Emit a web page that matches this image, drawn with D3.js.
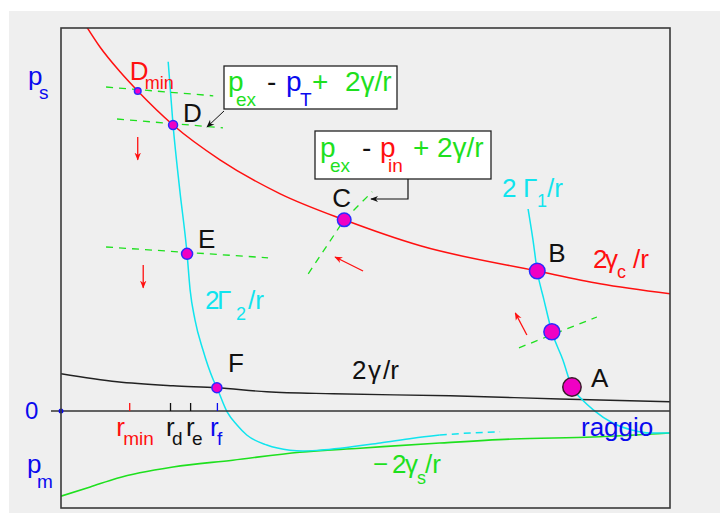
<!DOCTYPE html>
<html>
<head>
<meta charset="utf-8">
<script src="https://cdn.jsdelivr.net/npm/d3@7"></script>
<style>
  html, body { margin: 0; padding: 0; background: #fff; }
  svg { display: block; font-family: "Liberation Sans", Arial, sans-serif; }
</style>
</head>
<body>
<svg id="chart" width="720" height="515"></svg>
<script>
// ---- data: points on each curve as [raggio, pressione] ----
const curveGammaC = [[3.9,96.8],[6.4,91],[9.7,84.8],[12.6,80],[18.4,71.5],[26.1,62.8],[36,54.3],[46.5,47.8],[59,41.3],[78.2,35],[88.5,31.8],[100,29.3]];
const curveGamma2 = [[17.6,87.3],[18.4,71.5],[19.5,55.3],[20.7,39.3],[21.2,30.3],[22.0,22.8],[23.3,15.3],[25.0,7.8],[25.6,5.8],[27.3,-0.3],[28.9,-3.5],[30.5,-6],[33.8,-8.5],[37.6,-9.8],[39.7,-10],[42.5,-9.8],[52.4,-8],[57.8,-6.8],[62.2,-6]];
const curveGamma2Tail = [[62.2,-6],[67.2,-5.5],[72.1,-5.2]];
const curveGamma1 = [[76.7,50.5],[77.5,42.8],[78.2,35],[79.3,27.8],[80.6,19.8],[82.4,12.8],[83.9,6],[85.6,2.8],[87.4,0.3],[90.6,-3],[93.9,-4.8],[96.7,-5.5],[100,-5.5]];
const curveGammaS = [[0,-21.3],[4.8,-19],[9.2,-16.8],[18.4,-14],[28.2,-12.3],[39.2,-10.3],[49.1,-9.3],[62.2,-8],[74.2,-7],[87.4,-6.5],[100,-5.5]];
const curveGamma = [[0,9.3],[9.2,7.3],[18.4,6.3],[25.6,5.8],[33.8,4.8],[44.7,4.3],[63.9,3.8],[81.9,3],[100,2.3]];

// states on the curves
const pointNames = ["Dmin","D","C","E","F","B","M","A"];
const pointR     = [12.6, 18.4, 46.5, 20.7, 25.6, 78.2, 80.6, 83.9];
const pointP     = [80,   71.5, 47.8, 39.3, 5.8,  35,   19.8, 6];

// radii marked on the axis
const tickNames = ["min","d","e","f"];
const tickR     = [11.2, 17.9, 21.2, 25.6];

// tangent (dashed) segments
const tangents = [
  [[7.4,81],[25.0,78.8]],
  [[9.2,73],[26.6,70.8]],
  [[7.4,41],[34.0,38.3]],
  [[40.6,34.3],[46.5,47.8],[51.1,54.8]],
  [[75.2,15.8],[88.0,23.5]]
];

// direction arrows [from, to]
const moves = [
  [[12.6,68.5],[12.6,62.8]],
  [[13.5,36.5],[13.5,30.8]],
  [[49.6,35],[45.0,38.5]],
  [[76.5,19],[74.6,24.5]]
];

// ---- styles ----
const RED = "#ff1010", CYAN = "#10e4ee", GREEN = "#1ee01e", BLUE = "#0a0aee", BLACK = "#111";
const MAGENTA = "#f000c4";

const svg = d3.select("#chart");
svg.append("rect").attr("x", 9).attr("y", 11).attr("width", 711).attr("height", 502).attr("fill", "#efefef");

const x = d3.scaleLinear().domain([0, 100]).range([61, 670]);
const y = d3.scaleLinear().domain([-24.25, 95.75]).range([508, 28]);

const defs = svg.append("defs");
defs.append("clipPath").attr("id", "plot")
  .append("rect").attr("x", x(0)).attr("y", y(95.75))
  .attr("width", x(100) - x(0)).attr("height", y(-24.25) - y(95.75));

function arrowHead(id, color, size) {
  defs.append("marker").attr("id", id)
    .attr("viewBox", "0 0 10 10").attr("refX", 9).attr("refY", 5)
    .attr("markerWidth", size).attr("markerHeight", size)
    .attr("markerUnits", "userSpaceOnUse").attr("orient", "auto")
    .append("path").attr("d", "M0,1 L10,5 L0,9 L3,5 Z").attr("fill", color);
}
arrowHead("headRed", RED, 8);
arrowHead("headBlack", BLACK, 8);

const smooth = d3.line().x(d => x(d[0])).y(d => y(d[1])).curve(d3.curveMonotoneX);
const straight = d3.line().x(d => x(d[0])).y(d => y(d[1]));

const plot = svg.append("g").attr("clip-path", "url(#plot)");

// zero axis
svg.append("line").attr("x1", x(0) - 10).attr("x2", x(100))
  .attr("y1", y(0)).attr("y2", y(0)).attr("stroke", "#333").attr("stroke-width", 1.5);

// axis ticks for the characteristic radii
const tickColors = { min: RED, d: BLACK, e: BLACK, f: BLUE };
const axis = d3.axisTop(x).tickValues(tickR).tickSize(8).tickFormat("");
const axG = svg.append("g").attr("transform", `translate(0,${y(0)})`).call(axis);
axG.select(".domain").remove();
axG.selectAll(".tick line").attr("stroke", (d, i) => tickColors[tickNames[i]]).attr("stroke-width", 1.3);

// curves
function curve(data, color, dash, w) {
  plot.append("path").attr("d", smooth(data)).attr("fill", "none")
    .attr("stroke", color).attr("stroke-width", w || 1.5)
    .attr("stroke-dasharray", dash || null);
}
curve(curveGamma, "#222", null, 1.4);
curve(curveGammaS, GREEN, null, 1.6);
curve(curveGamma2, CYAN);
curve(curveGamma2Tail, CYAN, "7,5");
curve(curveGamma1, CYAN);
curve(curveGammaC, RED);

// tangents
tangents.forEach(t => {
  plot.append("path").attr("d", straight(t)).attr("fill", "none")
    .attr("stroke", GREEN).attr("stroke-width", 1.3).attr("stroke-dasharray", "7,6");
});

// direction arrows
moves.forEach(m => {
  svg.append("line").attr("x1", x(m[0][0])).attr("y1", y(m[0][1]))
    .attr("x2", x(m[1][0])).attr("y2", y(m[1][1]))
    .attr("stroke", RED).attr("stroke-width", 1.3).attr("marker-end", "url(#headRed)");
});

// state markers
const markerSize = { Dmin: 3.3, D: 4.5, C: 6.8, E: 5.5, F: 5, B: 7.8, M: 8, A: 9.2 };
pointNames.forEach((n, i) => {
  svg.append("circle").attr("cx", x(pointR[i])).attr("cy", y(pointP[i]))
    .attr("r", markerSize[n]).attr("fill", MAGENTA)
    .attr("stroke", n === "A" ? "#3a1a2a" : "#2a2aff").attr("stroke-width", 1.5);
});

// blue origin dot
svg.append("circle").attr("cx", x(0)).attr("cy", y(0)).attr("r", 2.5).attr("fill", BLUE);

// frame
svg.append("rect").attr("x", x(0)).attr("y", y(95.75))
  .attr("width", x(100) - x(0)).attr("height", y(-24.25) - y(95.75))
  .attr("fill", "none").attr("stroke", "#3a3a3a").attr("stroke-width", 1.6);

// ---- text helper: parts flow left to right, subscripts lowered ----
function rich(x0, y0, parts, size, subSize, subDy) {
  const t = svg.append("text").attr("x", x0).attr("y", y0).attr("font-size", size)
    .style("white-space", "pre");
  let low = false;
  parts.forEach(p => {
    const ts = t.append("tspan").text(p.t).attr("fill", p.c);
    if (p.x != null) ts.attr("x", x0 + p.x);
    if (p.sub) {
      ts.attr("font-size", subSize);
      if (!low) { ts.attr("dy", subDy); low = true; }
    } else if (low) { ts.attr("dy", -subDy); low = false; }
  });
  return t;
}

// axis labels
rich(28, 85, [{ t: "p", c: BLUE }, { t: "s", c: BLUE, sub: true, x: 11 }], 26, 19, 14);
rich(27, 473, [{ t: "p", c: BLUE }, { t: "m", c: BLUE, sub: true, x: 10 }], 26, 19, 15);
rich(25, 419, [{ t: "0", c: BLUE }], 24, 18, 0);
rich(581, 436, [{ t: "raggio", c: BLUE }], 26, 18, 0);

// radius labels under the ticks
const tickLabelX = { min: -13, d: -4, e: -4, f: -7 };
const tickSubX = { min: 7, d: 6, e: 6, f: 7 };
tickNames.forEach((n, i) => {
  rich(x(tickR[i]) + tickLabelX[n], y(0) + 25,
    [{ t: "r", c: tickColors[n] }, { t: n, c: tickColors[n], sub: true, x: tickSubX[n] }], 26, 19, 9);
});

// state labels
const labelOff = { D: [10, -3], C: [-12, -13], E: [11, -6], F: [11, -16], B: [11, -9], A: [19, 0] };
pointNames.forEach((n, i) => {
  if (!labelOff[n]) return;
  rich(x(pointR[i]) + labelOff[n][0], y(pointP[i]) + labelOff[n][1], [{ t: n, c: BLACK }], 26, 18, 0);
});
rich(x(pointR[0]) - 8, y(pointP[0]) - 11,
  [{ t: "D", c: RED }, { t: "min", c: RED, sub: true, x: 15 }], 26, 18, 9);

// curve labels
rich(205, 309, [{ t: "2", c: CYAN }, { t: "Γ", c: CYAN, x: 12 }, { t: "2", c: CYAN, sub: true, x: 31 }, { t: "/r", c: CYAN, x: 43 }], 26, 18, 11);
rich(502, 197, [{ t: "2", c: CYAN }, { t: "Γ", c: CYAN, x: 21 }, { t: "1", c: CYAN, sub: true, x: 35 }, { t: "/r", c: CYAN, x: 45 }], 26, 18, 10);
rich(593, 268, [{ t: "2", c: RED }, { t: "γ", c: RED, x: 12 }, { t: "c", c: RED, sub: true, x: 24 }, { t: "/r", c: RED, x: 40 }], 26, 18, 10);
rich(352, 379, [{ t: "2", c: BLACK }, { t: "γ", c: BLACK, x: 16 }, { t: "/r", c: BLACK, x: 31 }], 26, 18, 0);
rich(373, 473, [{ t: "−", c: GREEN }, { t: "2", c: GREEN, x: 19 }, { t: "γ", c: GREEN, x: 32 }, { t: "s", c: GREEN, sub: true, x: 44 }, { t: "/r", c: GREEN, x: 52 }], 26, 18, 11);

// callout boxes
function callout(bx, by, bw, bh, base, parts) {
  svg.append("rect").attr("x", bx).attr("y", by).attr("width", bw).attr("height", bh)
    .attr("fill", "#fff").attr("stroke", "#222").attr("stroke-width", 1.3);
  rich(bx, by + base, parts, 28, 19, 15);
}
callout(224, 66, 173, 43, 25, [
  { t: "p", c: GREEN, x: 4 }, { t: "ex", c: GREEN, sub: true, x: 12 },
  { t: "-", c: BLACK, x: 43 }, { t: "p", c: BLUE, x: 62 }, { t: "T", c: BLUE, sub: true, x: 76 },
  { t: "+", c: GREEN, x: 88 }, { t: "2γ/r", c: GREEN, x: 121 }
]);
callout(315, 131, 176, 48, 26, [
  { t: "p", c: GREEN, x: 5 }, { t: "ex", c: GREEN, sub: true, x: 15 },
  { t: "-", c: BLACK, x: 47 }, { t: "p", c: RED, x: 65 }, { t: "in", c: RED, sub: true, x: 73 },
  { t: "+", c: GREEN, x: 98 }, { t: "2γ/r", c: GREEN, x: 122 }
]);

// pointers from the boxes to the tangents
svg.append("line").attr("x1", 224).attr("y1", 111).attr("x2", 207).attr("y2", 127)
  .attr("stroke", BLACK).attr("stroke-width", 1).attr("marker-end", "url(#headBlack)");
svg.append("path").attr("d", "M408,179 V199 H371").attr("fill", "none")
  .attr("stroke", BLACK).attr("stroke-width", 1.2).attr("marker-end", "url(#headBlack)");
</script>
</body>
</html>
